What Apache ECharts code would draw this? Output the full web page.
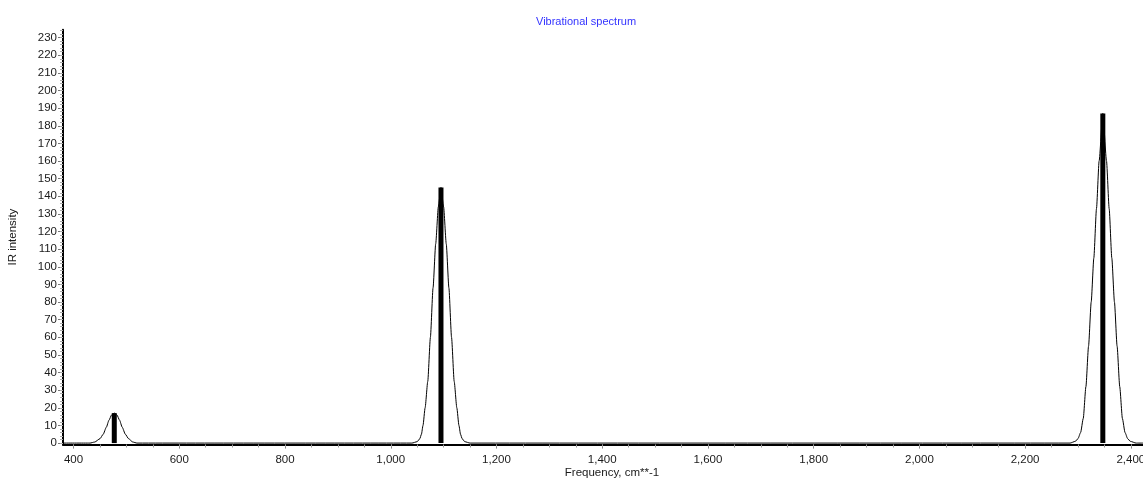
<!DOCTYPE html>
<html>
<head>
<meta charset="utf-8">
<script src="https://cdn.jsdelivr.net/npm/echarts@6/dist/echarts.min.js"></script>
<style>
html,body{margin:0;padding:0;background:#fff;}
#chart{width:1143px;height:481px;}
</style>
</head>
<body>
<div id="chart"></div>
<script>
// Stick spectrum (frequency, intensity)
const stickFreq = [477, 1095, 2347];
const stickInt = [17, 145, 187];

// Broadened spectrum curve
const curveFreq = [380, 431, 440, 450, 456, 462, 467, 472, 477, 482, 487, 492, 498, 504, 512, 520,
  1040, 1050, 1055, 1058, 1061, 1065, 1070, 1075, 1080, 1085, 1090, 1095, 1100, 1105, 1110, 1115, 1120, 1125, 1129, 1132, 1135, 1140, 1150,
  2285, 2295, 2300, 2305, 2310, 2315, 2320, 2325, 2330, 2335, 2340, 2347, 2354, 2359, 2364, 2369, 2374, 2379, 2384, 2389, 2394, 2399, 2410, 2423];
const curveInt = [0, 0, 0.6, 2.5, 5, 9, 13, 16, 17, 16, 13, 9, 5, 2.5, 0.6, 0,
  0, 0.8, 2.5, 5, 10, 20, 35, 60, 88, 113, 134, 145, 134, 113, 88, 60, 35, 20, 10, 5, 2.5, 0.8, 0,
  0, 1, 2.5, 6, 14, 32, 55, 80, 105, 133, 160, 187, 160, 133, 105, 80, 55, 32, 14, 6, 2.5, 1, 0, 0];

// Tick values
const xMajorTicks = [400, 600, 800, 1000, 1200, 1400, 1600, 1800, 2000, 2200, 2400];
const xMinorTicks = [400, 450, 500, 550, 600, 650, 700, 750, 800, 850, 900, 950, 1000, 1050, 1100, 1150, 1200, 1250, 1300, 1350, 1400, 1450, 1500, 1550, 1600, 1650, 1700, 1750, 1800, 1850, 1900, 1950, 2000, 2050, 2100, 2150, 2200, 2250, 2300, 2350, 2400];
const yMajorTicks = [0, 10, 20, 30, 40, 50, 60, 70, 80, 90, 100, 110, 120, 130, 140, 150, 160, 170, 180, 190, 200, 210, 220, 230];
const yMinorTicks = [0, 2, 4, 6, 8, 10, 12, 14, 16, 18, 20, 22, 24, 26, 28, 30, 32, 34, 36, 38, 40, 42, 44, 46, 48, 50, 52, 54, 56, 58, 60, 62, 64, 66, 68, 70, 72, 74, 76, 78, 80, 82, 84, 86, 88, 90, 92, 94, 96, 98, 100, 102, 104, 106, 108, 110, 112, 114, 116, 118, 120, 122, 124, 126, 128, 130, 132, 134, 136, 138, 140, 142, 144, 146, 148, 150, 152, 154, 156, 158, 160, 162, 164, 166, 168, 170, 172, 174, 176, 178, 180, 182, 184, 186, 188, 190, 192, 194, 196, 198, 200, 202, 204, 206, 208, 210, 212, 214, 216, 218, 220, 222, 224, 226, 228, 230, 232, 234];

const X_MIN = 380, X_MAX = 2423, Y_MIN = -0.8, Y_MAX = 234.5;
const FONT = 'Liberation Sans, Arial, sans-serif';

const curveData = curveFreq.map((f, i) => [f, curveInt[i]]);
const stickData = stickFreq.map((f, i) => [f, stickInt[i]]);

const chart = echarts.init(document.getElementById('chart'), null, {renderer: 'canvas'});
chart.setOption({
  animation: false,
  backgroundColor: '#ffffff',
  title: {
    text: 'Vibrational spectrum',
    left: 531, top: 11,
    textStyle: {color: '#3333ff', fontSize: 11, fontWeight: 'normal', fontFamily: FONT}
  },
  grid: {left: 63, right: 0, top: 29.7, bottom: 36.5, containLabel: false, outerBoundsMode: 'none'},
  xAxis: [
    {
      type: 'value', min: X_MIN, max: X_MAX, position: 'bottom',
      name: 'Frequency, cm**-1', nameLocation: 'middle', nameGap: 22, nameMoveOverlap: false,
      nameTextStyle: {color: '#1a1a1a', fontSize: 11.5, fontFamily: FONT, padding: [0, 0, 0, 18]},
      axisLine: {show: true, onZero: false, lineStyle: {color: '#000', width: 2}},
      axisTick: {show: true, customValues: xMajorTicks, length: 4, lineStyle: {color: '#777', width: 1}},
      axisLabel: {show: true, customValues: xMajorTicks, margin: 9, color: '#1a1a1a', fontSize: 11.5, fontFamily: FONT,
        formatter: v => Number(v).toLocaleString('en-US')},
      splitLine: {show: false}
    },
    {
      type: 'value', min: X_MIN, max: X_MAX, position: 'bottom',
      axisLine: {show: false, onZero: false},
      axisTick: {show: true, customValues: xMinorTicks, length: 3, lineStyle: {color: '#999', width: 1}},
      axisLabel: {show: false},
      splitLine: {show: false}
    }
  ],
  yAxis: [
    {
      type: 'value', min: Y_MIN, max: Y_MAX, position: 'left',
      name: 'IR intensity', nameLocation: 'middle', nameGap: 44, nameMoveOverlap: false,
      nameTextStyle: {color: '#1a1a1a', fontSize: 11.5, fontFamily: FONT},
      axisLine: {show: true, onZero: false, lineStyle: {color: '#000', width: 2}},
      axisTick: {show: true, customValues: yMajorTicks, length: 5, lineStyle: {color: '#777', width: 1}},
      axisLabel: {show: true, customValues: yMajorTicks, margin: 6, color: '#1a1a1a', fontSize: 11.5, fontFamily: FONT},
      splitLine: {show: false}
    },
    {
      type: 'value', min: Y_MIN, max: Y_MAX, position: 'left',
      axisLine: {show: false, onZero: false},
      axisTick: {show: true, customValues: yMinorTicks, length: 3, lineStyle: {color: '#aaa', width: 1}},
      axisLabel: {show: false},
      splitLine: {show: false}
    }
  ],
  series: [
    {
      type: 'line', xAxisIndex: 0, yAxisIndex: 0,
      data: curveData, showSymbol: false, smooth: 0.2, smoothMonotone: 'x',
      lineStyle: {color: '#000', width: 1}, z: 2
    },
    {
      type: 'bar', xAxisIndex: 0, yAxisIndex: 0,
      data: stickData, barWidth: 5,
      itemStyle: {color: '#000'}, z: 3
    }
  ]
});
</script>
</body>
</html>
